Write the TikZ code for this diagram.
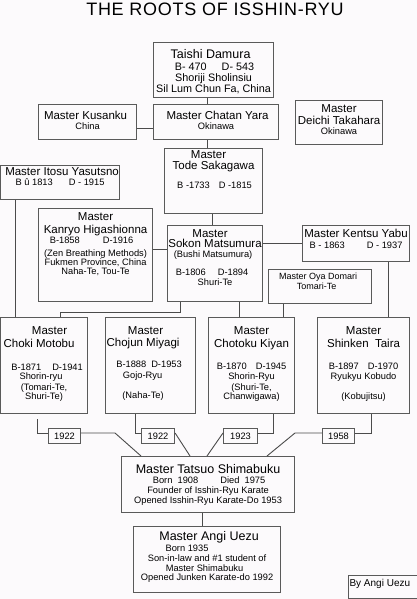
\documentclass[tikz,border=0pt]{standalone}
\usepackage{fontspec}
\setmainfont{Liberation Sans}
\definecolor{bg}{RGB}{252,250,252}
\definecolor{bd}{RGB}{90,90,90}
\definecolor{ln}{RGB}{75,75,75}
\newcommand\Ln[3]{{\fontsize{#1}{#2}\selectfont #3\par}}
\newcommand\bx[6]{\node[box] (#1) at (#2,#3) {\parbox[t][#5pt][t]{#4pt}{\centering\parskip=0pt\lineskiplimit=-100pt\lineskip=0pt #6}};}
\tikzset{
  box/.style={draw=bd, line width=1.1pt, inner sep=0pt, anchor=north west},
  yr/.style={draw=bd, line width=1.1pt, inner sep=0pt, minimum height=15.5pt, anchor=north west, font=\fontsize{9.3}{10}\selectfont},
  conn/.style={draw=ln, line width=0.9pt},
}
\begin{document}
\begin{tikzpicture}[x=1pt,y=-1pt]
\useasboundingbox (0,0) rectangle (417,599);
\fill[bg] (0,0) rectangle (417,599);
\node[font=\addfontfeatures{LetterSpace=4}\fontsize{18}{19}\selectfont] (title) at (215,9.5) {THE ROOTS OF ISSHIN-RYU};

\bx{taishi}{153}{42}{120}{55}{
 \Ln{12.5}{12}{\rule{0pt}{15.5pt}Taishi Damura\kern6pt}
 \Ln{10.8}{12.3}{\leavevmode\kern2pt B- 470\hspace{15pt}D- 543}
 \Ln{10.8}{11}{Shoriji Sholinsiu}
 \Ln{10.8}{11}{Sil Lum Chun Fa, China}}
\bx{kusanku}{38}{104}{98}{35}{
 \Ln{11.5}{12}{\rule{0pt}{15.1pt}Master Kusanku\kern4pt}
 \Ln{9.3}{10.3}{China}}
\bx{chatan}{153}{104}{125}{35}{
 \Ln{11.5}{12}{\leavevmode\kern3pt\rule{0pt}{15.1pt}Master Chatan Yara}
 \Ln{9.3}{10.3}{Okinawa}}
\bx{deichi}{295}{100}{87}{44}{
 \Ln{11.5}{12}{\rule{0pt}{12.1pt}Master}
 \Ln{11.5}{12}{Deichi Takahara}
 \Ln{9.3}{10.3}{Okinawa}}
\bx{tode}{164}{148}{98}{65}{
 \Ln{11.5}{12}{\rule{0pt}{10.1pt}Master\kern10pt}
 \Ln{11.5}{11}{Tode Sakagawa}
 \Ln{9.3}{19.3}{\leavevmode\kern2pt B -1733\hspace{9pt}D -1815}}
\bx{itosu}{0}{165}{119}{34}{
 \Ln{11.5}{12}{\leavevmode\kern4pt\rule{0pt}{10.1pt}Master Itosu Yasutsno}
 \Ln{9.3}{10.3}{B û 1813\hspace{16pt}D - 1915}}
\bx{kanryo}{38}{208}{114}{93}{
 \Ln{11.5}{12}{\rule{0pt}{12.4pt}Master}
 \Ln{11.5}{13}{Kanryo Higashionna}
 \Ln{9.3}{9.2}{B-1858\hspace{23pt}D-1916\kern8pt}
 \Ln{9.3}{13.5}{(Zen Breathing Methods)}
 \Ln{9.3}{9}{Fukmen Province, China}
 \Ln{9.3}{9.3}{Naha-Te, Tou-Te}}
\bx{sokon}{167}{225}{95}{76}{
 \Ln{11.5}{12}{\rule{0pt}{11.8pt}Master\kern10pt}
 \Ln{11.5}{10}{Sokon Matsumura}
 \Ln{9.3}{9.8}{(Bushi Matsumura)\kern4pt}
 \Ln{9.3}{18.5}{B-1806\hspace{12pt}D-1894\kern6pt}
 \Ln{9.3}{10}{Shuri-Te}}
\bx{kentsu}{302}{225}{107}{36}{
 \Ln{11.5}{12}{\rule{0pt}{12.1pt}Master Kentsu Yabu}
 \Ln{9.3}{11.3}{B - 1863\hspace{22pt}D - 1937}}
\bx{oya}{268}{269}{103}{34}{
 \Ln{9}{10}{\rule{0pt}{10.2pt}Master Oya Domari\kern4pt}
 \Ln{9}{10}{Tomari-Te\kern7pt}}
\bx{choki}{0}{317}{87}{96}{
 \Ln{11.5}{12}{\leavevmode\kern11pt\rule{0pt}{17.1pt}Master}
 \Ln{11.5}{13}{Choki Motobu\kern10pt}
 \Ln{9.3}{23.3}{\leavevmode\kern6pt B-1871\hspace{11pt}D-1941}
 \Ln{9.3}{9}{Shorin-ryu\kern6pt}
 \Ln{9.3}{11}{(Tomari-Te,}
 \Ln{9.3}{9}{Shuri-Te)}}
\bx{chojun}{105}{317}{90}{96}{
 \Ln{11.5}{12}{\rule{0pt}{17.1pt}Master\kern10pt}
 \Ln{11.5}{12}{Chojun Miyagi\kern15pt}
 \Ln{9.3}{21.3}{B-1888\hspace{5pt}D-1953\kern3pt}
 \Ln{9.3}{11}{Gojo-Ryu\kern16pt}
 \Ln{9.3}{20}{(Naha-Te)\kern15pt}}
\bx{chotoku}{208}{317}{86}{96}{
 \Ln{11.5}{12}{\rule{0pt}{17.1pt}Master}
 \Ln{11.5}{13}{Chotoku Kiyan}
 \Ln{9.3}{22.3}{B-1870\hspace{9pt}D-1945}
 \Ln{9.3}{10}{Shorin-Ryu}
 \Ln{9.3}{10.5}{(Shuri-Te,}
 \Ln{9.3}{9}{Chanwigawa)}}
\bx{shinken}{317}{317}{92}{96}{
 \Ln{11.5}{12}{\rule{0pt}{17.1pt}Master}
 \Ln{11.5}{13}{Shinken\ \ Taira}
 \Ln{9.3}{22.3}{B-1897\hspace{9pt}D-1970}
 \Ln{9.3}{10}{Ryukyu Kobudo}
 \Ln{9.3}{19.5}{(Kobujitsu)}}

\node[yr, minimum width=32pt] (y1) at (48,427.5) {1922};
\node[yr, minimum width=33pt] (y2) at (141,427.5) {1922};
\node[yr, minimum width=34pt] (y3) at (223,427.5) {1923};
\node[yr, minimum width=32pt] (y4) at (322,427.5) {1958};

\bx{tatsuo}{121}{456}{173}{56}{
 \Ln{12.5}{12}{\rule{0pt}{16.5pt}Master Tatsuo Shimabuku}
 \Ln{9.3}{10.9}{\leavevmode\kern2pt Born\ \ 1908\hspace{22pt}Died\ \ 1975}
 \Ln{9.3}{10}{Founder of Isshin-Ryu Karate}
 \Ln{9.3}{10}{Opened Isshin-Ryu Karate-Do 1953}}
\bx{angi}{133}{526}{147}{66}{
 \Ln{12.5}{12}{\leavevmode\kern4pt\rule{0pt}{13.5pt}Master Angi Uezu}
 \Ln{9.3}{11.9}{Born 1935\kern40pt}
 \Ln{9.3}{10}{Son-in-law and \#1 student of}
 \Ln{9.3}{10}{Master Shimabuku\kern5pt}
 \Ln{9.3}{9}{Opened Junken Karate-do 1992}}
\node[box] (by) at (348,575) {\parbox[t][22.5pt][t]{68.5pt}{\raggedright\Ln{10}{11}{\leavevmode\kern1pt\rule{0pt}{10.6pt}By Angi Uezu}}};

% connectors
\draw[conn] (taishi.south -| 207,0) -- (chatan.north -| 207,0);
\draw[conn] (kusanku.east |- 0,128) -- (chatan.west |- 0,128);
\draw[conn] (chatan.south -| 207,0) -- (tode.north -| 207,0);
\draw[conn] (tode.south -| 212,0) -- (sokon.north -| 212,0);
\draw[conn] (kanryo.east |- 0,249) -- (sokon.west |- 0,249);
\draw[conn] (sokon.east |- 0,243) -- (kentsu.west |- 0,243);
\draw[conn] (kentsu.south -| 388,0) -- (shinken.north -| 388,0);
\draw[conn] (itosu.south -| 15,0) -- (choki.north -| 15,0);
\draw[conn] (sokon.south -| 180,0) |- (60,312) -- (choki.north -| 60,0);
\draw[conn] (sokon.south -| 239,0) -- (chotoku.north -| 239,0);
\draw[conn] (oya.south -| 283,0) -- (chotoku.north -| 283,0);

\draw[conn] (choki.south -| 37,0) ++(0,5) |- (y1.west |- 0,433);
\draw[conn] (y1.east |- 0,433) -- (115,433) -- (tatsuo.north -| 141,0);
\draw[conn] (chojun.south -| 135,0) |- (y2.west |- 0,433);
\draw[conn] (y2.east |- 0,433) -- (tatsuo.north -| 190,0);
\draw[conn] (y3.west |- 0,433) -- (tatsuo.north -| 207,0);
\draw[conn] (chotoku.south -| 273,0) |- (y3.east |- 0,433);
\draw[conn] (y4.west |- 0,433) -- (295,433) -- (tatsuo.north -| 267,0);
\draw[conn] (shinken.south -| 371,0) |- (y4.east |- 0,433);
\draw[conn] (tatsuo.south -| 202,0) -- (angi.north -| 202,0);
\end{tikzpicture}
\end{document}
